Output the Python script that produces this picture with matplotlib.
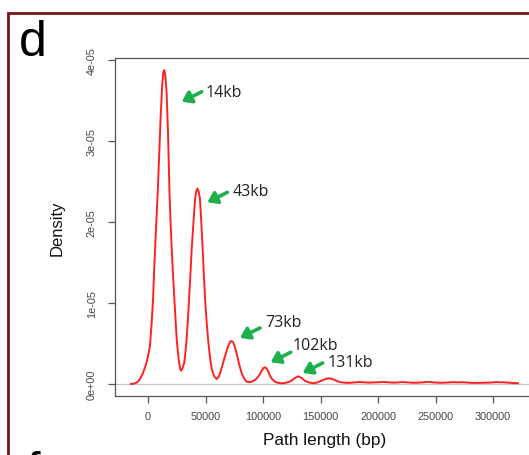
import matplotlib
matplotlib.use("Agg")
import matplotlib.pyplot as plt
from matplotlib.patches import Rectangle

# density curve (path length in bp, density)
path_len = [-14800, -12000, -9000, -7000, -4500, -2000, 0, 1700, 3200, 4400,
            5500, 6500, 7500, 8500, 9800, 11000, 12300, 13300, 14200, 15100,
            16200, 17400, 18600, 19600, 20600, 21800, 22900, 23900, 24900, 26000,
            27000, 28000, 28700, 29600, 30600, 31600, 32600, 33600, 34700, 35700,
            36900, 38000, 39500, 40900, 42000, 43000, 44100, 45200, 46400, 47500,
            48500, 49600, 51000, 52500, 54000, 55400, 57500, 59700, 61500, 63500,
            65500, 67700, 69800, 71300, 72600, 74000, 75500, 77500, 79500, 81500,
            83500, 85500, 87500, 90000, 92500, 95000, 97000, 98800, 100300, 101700,
            103200, 104700, 106000, 108000, 110400, 113000, 116300, 119500, 122500, 125000,
            127500, 130700, 133500, 136500, 140000, 143800, 147500, 151000, 154500, 157700,
            161000, 164500, 168000, 172000, 176000, 180000, 184000, 188000, 192000, 196000,
            200000, 206000, 211000, 215500, 220600, 226000, 231000, 237000, 243700, 249000,
            254000, 259000, 265500, 270000, 274200, 280000, 286000, 292000, 297000, 303200,
            306000, 309000, 314000, 318000, 321700]
density = [0.0, 0.05e-6, 0.25e-6, 0.6e-6, 1.3e-6, 2.3e-6, 3.4e-6, 4.7e-6, 7.6e-6, 1.05e-5,
           1.46e-5, 1.78e-5, 2.08e-5, 2.38e-5, 2.85e-5, 3.3e-5, 3.68e-5, 3.84e-5, 3.87e-5, 3.8e-5,
           3.58e-5, 3.1e-5, 2.4e-5, 2.0e-5, 1.67e-5, 1.33e-5, 1.05e-5, 7.8e-6, 5.6e-6, 3.9e-6,
           2.7e-6, 1.9e-6, 1.64e-6, 1.8e-6, 2.2e-6, 2.7e-6, 4.0e-6, 5.6e-6, 8.0e-6, 1.05e-5,
           1.36e-5, 1.67e-5, 1.98e-5, 2.28e-5, 2.38e-5, 2.41e-5, 2.37e-5, 2.28e-5, 1.98e-5, 1.67e-5,
           1.36e-5, 1.05e-5, 7.6e-6, 5.1e-6, 3.2e-6, 1.85e-6, 0.95e-6, 0.62e-6, 0.9e-6, 1.7e-6,
           2.7e-6, 3.8e-6, 4.7e-6, 5.2e-6, 5.3e-6, 5.15e-6, 4.6e-6, 3.5e-6, 2.3e-6, 1.3e-6,
           0.7e-6, 0.3e-6, 0.22e-6, 0.28e-6, 0.45e-6, 0.75e-6, 1.15e-6, 1.64e-6, 1.95e-6, 2.06e-6,
           1.92e-6, 1.5e-6, 1.03e-6, 0.6e-6, 0.28e-6, 0.14e-6, 0.09e-6, 0.15e-6, 0.25e-6, 0.42e-6,
           0.72e-6, 0.95e-6, 0.75e-6, 0.4e-6, 0.18e-6, 0.09e-6, 0.2e-6, 0.42e-6, 0.62e-6, 0.7e-6,
           0.58e-6, 0.35e-6, 0.2e-6, 0.15e-6, 0.15e-6, 0.2e-6, 0.25e-6, 0.2e-6, 0.17e-6, 0.19e-6,
           0.2e-6, 0.25e-6, 0.18e-6, 0.17e-6, 0.24e-6, 0.19e-6, 0.15e-6, 0.18e-6, 0.26e-6, 0.19e-6,
           0.15e-6, 0.17e-6, 0.23e-6, 0.2e-6, 0.22e-6, 0.15e-6, 0.13e-6, 0.15e-6, 0.17e-6, 0.24e-6,
           0.2e-6, 0.22e-6, 0.15e-6, 0.12e-6, 0.1e-6]

x_ticks = [0, 50000, 100000, 150000, 200000, 250000, 300000]
y_ticks = [0, 1e-5, 2e-5, 3e-5, 4e-5]
y_tick_labels = ["0e+00", "1e-05", "2e-05", "3e-05", "4e-05"]

# peak annotations: label, arrow head (data), text offset (px)
peak_labels = ["14kb", "43kb", "73kb", "102kb", "131kb"]
arrow_x = [29300, 51600, 80000, 106700, 134500]
arrow_y = [3.48e-5, 2.24e-5, 5.68e-6, 2.68e-6, 1.36e-6]
text_dx = [24, 25, 25, 22, 25]
text_dy = [10, 11, 16, 17, 11]

green = "#1db04b"
grey = "#555555"

plt.rcParams["font.family"] = ["Liberation Sans", "DejaVu Sans"]

fig = plt.figure(figsize=(5.29, 4.56), dpi=100)
ax = fig.add_axes([115 / 529, 59 / 456, 420 / 529, 338 / 456])

ax.axhline(0, color="#c0c0c0", lw=0.9, zorder=1)
ax.plot(path_len, density, color="#ff2020", lw=1.4, zorder=3)

ax.set_xlim(-28700, 336500)
ax.set_ylim(-1.48e-6, 4.02e-5)
ax.set_xticks(x_ticks)
ax.set_xticklabels([str(t) for t in x_ticks])
ax.set_yticks(y_ticks)
ax.set_yticklabels(y_tick_labels, rotation=90, va="center")
ax.tick_params(axis="both", direction="out", length=5, width=0.9, color=grey,
               labelsize=7.8, labelcolor="#444444")
ax.tick_params(axis="x", pad=6)
ax.tick_params(axis="y", pad=8)
for s in ax.spines.values():
    s.set_color(grey)
    s.set_linewidth(0.9)

ax.set_xlabel("Path length (bp)", fontsize=12.4, color="#111111", labelpad=8)
ax.set_ylabel("Density", fontsize=12, color="#111111", labelpad=16)

for lab, hx, hy, tdx, tdy in zip(peak_labels, arrow_x, arrow_y, text_dx, text_dy):
    ax.annotate("", xy=(hx, hy), xytext=(20, 10), textcoords="offset pixels",
                arrowprops=dict(arrowstyle="-|>,head_length=0.55,head_width=0.38",
                                color=green, lw=2.6, shrinkA=0, shrinkB=0))
    ax.annotate(lab, xy=(hx, hy), xytext=(tdx, tdy), textcoords="offset pixels",
                fontsize=11.5, color="#222222", family=["Open Sans", "DejaVu Sans"],
                va="center", ha="left")

# panel frame and letters (the next panel's "f" is cut by the lower edge)
fig.patches.append(Rectangle((8 / 529, -0.2), 1.5, (456 - 14) / 456 + 0.2,
                             transform=fig.transFigure, fill=False,
                             edgecolor="#7a1418", lw=2, clip_on=False))
fig.text(19 / 529, 1 - 20 / 456, "d", fontsize=36, va="top", ha="left")
fig.text(26 / 529, 1 - 451 / 456, "f", fontsize=35, va="top", ha="left")

fig.savefig("out.png", dpi=100)
